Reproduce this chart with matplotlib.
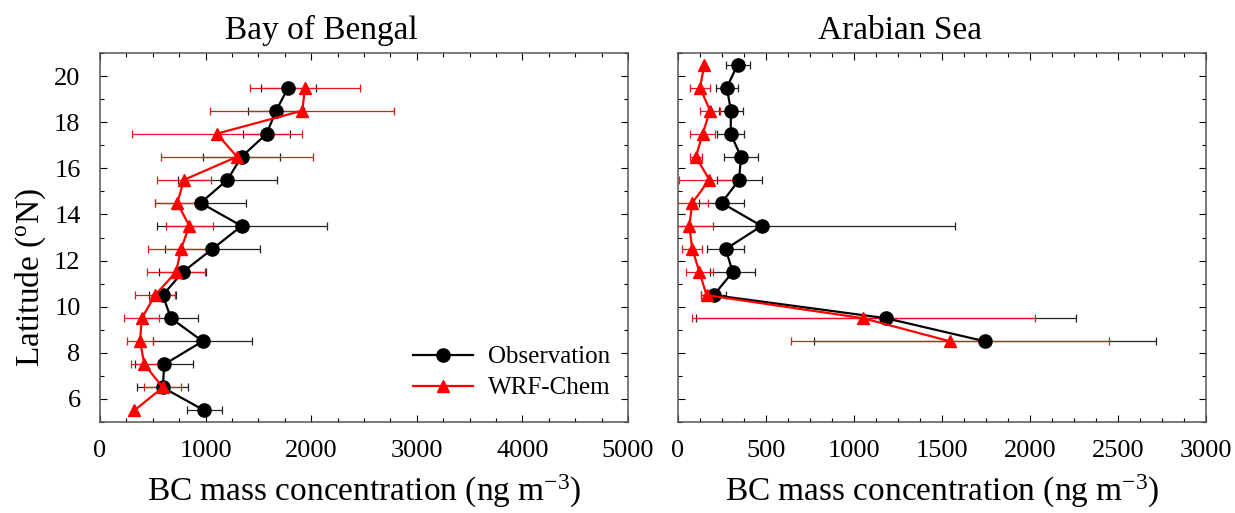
import matplotlib
matplotlib.use("Agg")
import matplotlib.pyplot as plt
from matplotlib.ticker import MultipleLocator

plt.rcParams['font.family'] = ['Liberation Serif', 'DejaVu Serif']
plt.rcParams['mathtext.fontset'] = 'custom'
plt.rcParams['mathtext.rm'] = 'Liberation Serif'
plt.rcParams['mathtext.it'] = 'Liberation Serif:italic'

# ---------------------------------------------------------------- data
# Bay of Bengal
lat_bob = [19.5, 18.5, 17.5, 16.5, 15.5, 14.5, 13.5, 12.5, 11.5, 10.5, 9.5, 8.5, 7.5, 6.5, 5.5]
obs_bob = [1783, 1667, 1578, 1341, 1206, 953, 1341, 1064, 783, 594, 672, 972, 609, 594, 988]
obs_bob_err = [262, 262, 220, 363, 467, 434, 805, 453, 221, 130, 260, 470, 275, 240, 166]
wrf_bob = [1941, 1916, 1105, 1298, 795, 732, 846, 767, 720, 521, 396, 379, 420, 594, 325]
wrf_bob_err = [525, 870, 805, 722, 253, 211, 221, 309, 278, 186, 166, 120, 130, 174, 0]

# Arabian Sea
lat_as = [20.5, 19.5, 18.5, 17.5, 16.5, 15.5, 14.5, 13.5, 12.5, 11.5, 10.5, 9.5, 8.5]
obs_as = [339, 277, 301, 299, 358, 347, 248, 475, 271, 311, 203, 1182, 1743]
obs_as_err = [69, 62, 67, 76, 99, 128, 128, 1100, 104, 127, 70, 1080, 972]
wrf_as = [150, 125, 182, 140, 102, 178, 81, 64, 81, 122, 162, 1052, 1544]
wrf_as_err = [0, 58, 55, 73, 36, 170, 90, 133, 57, 76, 30, 975, 903]

titles = ["Bay of Bengal", "Arabian Sea"]
xlabel = r"BC mass concentration (ng m$^{\mathrm{-3}}$)"
ylabel = r"Latitude ($^{\mathrm{o}}$N)"

# ---------------------------------------------------------------- figure
fig = plt.figure(figsize=(12.35, 5.13), dpi=100)
ax1 = fig.add_axes([100 / 1235, 1 - 422 / 513, 528 / 1235, 369 / 513])
ax2 = fig.add_axes([678 / 1235, 1 - 422 / 513, 528 / 1235, 369 / 513])


def draw(ax, lat, obs, obs_err, wrf, wrf_err):
    ax.errorbar(obs, lat, xerr=obs_err, fmt='none', ecolor='#222222', elinewidth=0.9,
                capsize=3, capthick=0.9, zorder=2)
    ax.errorbar(wrf, lat, xerr=wrf_err, fmt='none', ecolor='#e8141a', elinewidth=0.9,
                capsize=3, capthick=0.9, zorder=3)
    ax.plot(obs, lat, color='black', lw=1.6, marker='o', ms=9.5, label='Observation', zorder=4)
    ax.plot(wrf, lat, color='#ff0000', lw=1.6, marker='^', ms=9, label='WRF-Chem', zorder=5)
    ax.set_ylim(5, 21)
    ax.yaxis.set_major_locator(MultipleLocator(2))
    ax.yaxis.set_minor_locator(MultipleLocator(1))
    ax.tick_params(which='both', direction='in', top=True, right=True, labelsize=19)
    ax.tick_params(which='major', length=5, width=0.8)
    ax.tick_params(which='minor', length=3, width=0.8)
    ax.tick_params(axis='x', pad=13)
    ax.tick_params(axis='y', pad=14)
    for sp in ax.spines.values():
        sp.set_color('#555555')
        sp.set_linewidth(1.1)
    ax.set_xlabel(xlabel, fontsize=24, labelpad=8)


draw(ax1, lat_bob, obs_bob, obs_bob_err, wrf_bob, wrf_bob_err)
draw(ax2, lat_as, obs_as, obs_as_err, wrf_as, wrf_as_err)

ax1.set_xlim(0, 5000)
ax1.xaxis.set_major_locator(MultipleLocator(1000))
ax1.xaxis.set_minor_locator(MultipleLocator(250))
ax1.set_ylabel(ylabel, fontsize=24)
ax1.yaxis.set_label_coords(-0.098, 0.393)
ax1.set_title(titles[0], fontsize=24, x=0.42, pad=10)

ax2.set_xlim(0, 3000)
ax2.xaxis.set_major_locator(MultipleLocator(500))
ax2.xaxis.set_minor_locator(MultipleLocator(125))
ax2.set_yticklabels([])
ax2.set_title(titles[1], fontsize=24, x=0.42, pad=10)

ax1.legend(loc='lower right', bbox_to_anchor=(1.01, 0.0), frameon=False, fontsize=18,
           handlelength=2.4, handletextpad=0.6, labelspacing=0.35)

fig.savefig("out.png", dpi=100)
